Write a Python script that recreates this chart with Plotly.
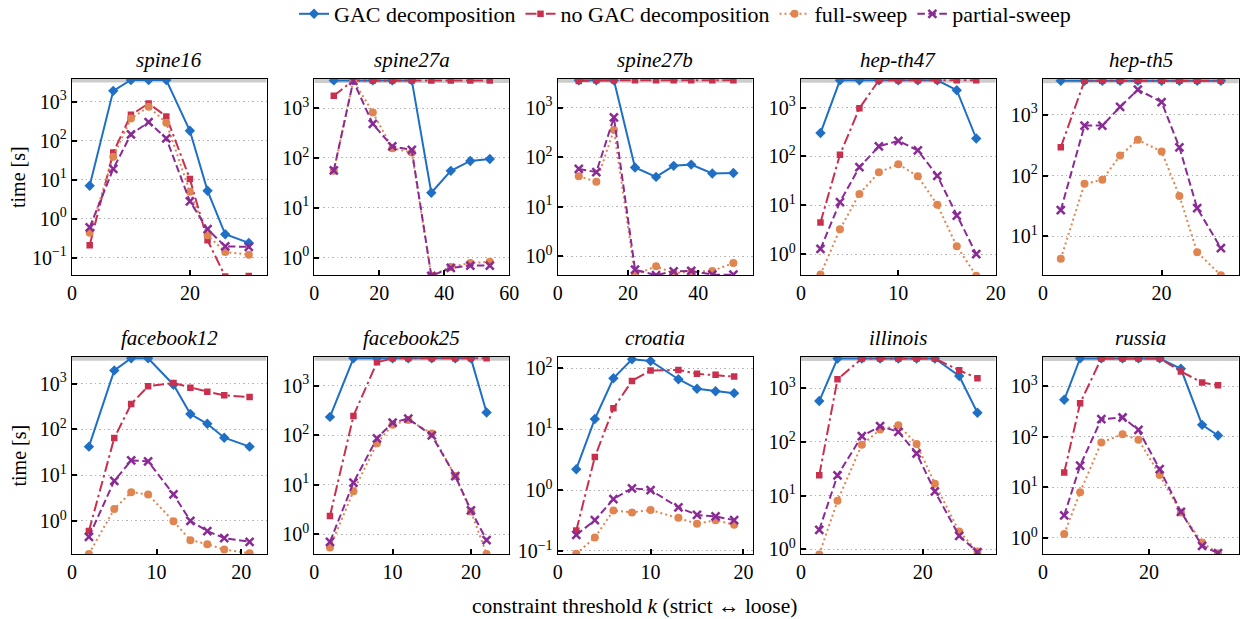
import plotly.graph_objects as go

W, H = 1247, 619

# ---------------- data ----------------
panel_names = ["spine16", "spine27a", "spine27b", "hep-th47", "hep-th5",
               "facebook12", "facebook25", "croatia", "illinois", "russia"]
series_names = ["GAC decomposition", "no GAC decomposition", "full-sweep", "partial-sweep"]

x_spine16 = [3, 7, 10, 13, 16, 20, 23, 26, 30]
gac_spine16 = [7.0, 1900, 3600, 3600, 3600, 180, 5.2, 0.40, 0.24]
nogac_spine16 = [0.21, 50, 460, 900, 420, 10.4, 0.28, 0.033, 0.034]
full_spine16 = [0.44, 39, 370, 740, 290, 4.9, 0.38, 0.14, 0.12]
partial_spine16 = [0.6, 19, 145, 300, 115, 2.8, 0.54, 0.195, 0.19]

x_spine27a = [6, 12, 18, 24, 30, 36, 42, 48, 54]
gac_spine27a = [3600, 3600, 3600, 3600, 3600, 20, 55, 87, 95]
nogac_spine27a = [1770, 3600, 3600, 3600, 3600, 3600, 3600, 3600, 3600]
full_spine27a = [55, 3600, 820, 157, 128, 0.43, 0.65, 0.78, 0.82]
partial_spine27a = [56, 3500, 480, 170, 145, 0.43, 0.62, 0.69, 0.69]

x_spine27b = [6, 11, 16, 22, 28, 33, 38, 44, 50]
gac_spine27b = [3600, 3600, 3600, 62, 40, 67, 71, 47, 48]
nogac_spine27b = [3500, 3600, 3600, 3600, 3600, 3600, 3600, 3600, 3600]
full_spine27b = [41, 32, 355, 0.42, 0.62, 0.45, 0.48, 0.5, 0.72]
partial_spine27b = [58, 50, 640, 0.53, 0.41, 0.49, 0.5, 0.42, 0.42]

x_hepth47 = [2, 4, 6, 8, 10, 12, 14, 16, 18]
gac_hepth47 = [300, 3600, 3600, 3600, 3600, 3600, 3600, 2260, 232]
nogac_hepth47 = [4.4, 108, 970, 3600, 3600, 3600, 3600, 3600, 3600]
full_hepth47 = [0.38, 3.2, 17, 47, 69, 39, 10.2, 1.44, 0.36]
partial_hepth47 = [1.27, 11.6, 60, 160, 208, 132, 40, 6.1, 1.0]

x_hepth5 = [3, 7, 10, 13, 16, 20, 23, 26, 30]
gac_hepth5 = [3600, 3600, 3600, 3600, 3600, 3600, 3600, 3600, 3600]
nogac_hepth5 = [291, 3600, 3600, 3600, 3600, 3600, 3600, 3600, 3600]
full_hepth5 = [4.3, 73, 85, 213, 385, 247, 46, 5.5, 2.3]
partial_hepth5 = [27, 660, 660, 1340, 2570, 1610, 291, 29, 6.4]

x_fb12 = [2, 5, 7, 9, 12, 14, 16, 18, 21]
gac_fb12 = [42, 1950, 3600, 3600, 950, 217, 133, 66, 42]
nogac_fb12 = [0.6, 65, 360, 880, 1030, 820, 670, 560, 510]
full_fb12 = [0.19, 1.83, 4.25, 3.8, 0.98, 0.38, 0.31, 0.236, 0.196]
partial_fb12 = [0.45, 7.5, 21, 20, 3.8, 1.0, 0.6, 0.42, 0.35]

x_fb25 = [2, 5, 8, 10, 12, 15, 18, 20, 22]
gac_fb25 = [236, 3600, 3600, 3600, 3600, 3600, 3600, 3600, 290]
nogac_fb25 = [2.34, 247, 3000, 3600, 3600, 3600, 3600, 3600, 3600]
full_fb25 = [0.54, 7.4, 69, 163, 205, 109, 15, 2.9, 0.4]
partial_fb25 = [0.70, 11.1, 87, 181, 218, 100, 15, 3.05, 0.76]

x_croatia = [2, 4, 6, 8, 10, 13, 15, 17, 19]
gac_croatia = [2.2, 14.7, 68.5, 140, 132, 66, 46, 42, 39]
nogac_croatia = [0.216, 3.5, 22, 62, 92, 94, 81, 78, 73]
full_croatia = [0.09, 0.166, 0.46, 0.43, 0.47, 0.35, 0.28, 0.32, 0.27]
partial_croatia = [0.183, 0.32, 0.71, 1.07, 1.0, 0.52, 0.39, 0.37, 0.32]

x_illinois = [3, 6, 10, 13, 16, 19, 22, 26, 29]
gac_illinois = [580, 3600, 3600, 3600, 3600, 3600, 3600, 1700, 350]
nogac_illinois = [23.9, 1470, 3600, 3600, 3600, 3600, 3600, 2170, 1540]
full_illinois = [0.8, 8.0, 89, 170, 206, 92, 16.7, 2.14, 0.91]
partial_illinois = [2.3, 23.9, 128, 197, 155, 61, 12, 1.78, 0.88]

x_russia = [4, 7, 11, 15, 18, 22, 26, 30, 33]
gac_russia = [545, 3600, 3600, 3600, 3600, 3600, 2240, 174, 107]
nogac_russia = [19.7, 467, 3600, 3600, 3600, 3600, 1980, 1200, 1060]
full_russia = [1.2, 8.0, 78, 113, 88, 17.7, 3.2, 0.81, 0.5]
partial_russia = [2.8, 27, 225, 243, 138, 23, 3.3, 0.70, 0.5]

timeout = 3600
y_tick_exponents = [-1, 0, 1, 2, 3]

panel_data = [
    (x_spine16, [gac_spine16, nogac_spine16, full_spine16, partial_spine16]),
    (x_spine27a, [gac_spine27a, nogac_spine27a, full_spine27a, partial_spine27a]),
    (x_spine27b, [gac_spine27b, nogac_spine27b, full_spine27b, partial_spine27b]),
    (x_hepth47, [gac_hepth47, nogac_hepth47, full_hepth47, partial_hepth47]),
    (x_hepth5, [gac_hepth5, nogac_hepth5, full_hepth5, partial_hepth5]),
    (x_fb12, [gac_fb12, nogac_fb12, full_fb12, partial_fb12]),
    (x_fb25, [gac_fb25, nogac_fb25, full_fb25, partial_fb25]),
    (x_croatia, [gac_croatia, nogac_croatia, full_croatia, partial_croatia]),
    (x_illinois, [gac_illinois, nogac_illinois, full_illinois, partial_illinois]),
    (x_russia, [gac_russia, nogac_russia, full_russia, partial_russia]),
]

# ---------------- styling / layout ----------------
FONT = "Liberation Serif, Times New Roman, serif"
colors = ["#1f6fc5", "#c8304e", "#e08450", "#8a2b95"]
dashes = ["solid", "11px,3.5px,2.5px,3.5px", "2px,3px", "7.5px,3.5px"]
symbols = ["diamond", "square", "circle", "x-thin"]
msizes = [8, 6.5, 8, 8]

x_ranges = [[0, 33], [0, 60], [0, 55.5], [0, 20], [0, 33],
            [0, 23], [0, 24.9], [0, 21], [0, 32], [0, 36.9]]
x_dticks = [20, 20, 20, 10, 20, 10, 10, 10, 20, 20]
y_ranges = [[-1.45, 3.59], [-0.356, 3.59], [-0.39, 3.59], [-0.436, 3.59], [0.361, 3.59],
            [-0.73, 3.59], [-0.405, 3.59], [-1.055, 2.19], [-0.094, 3.59], [-0.324, 3.59]]

col_px = [(72, 266.5), (314.3, 509.3), (557.7, 752.7), (801, 995.7), (1043, 1238.7)]
row_px = [(78.7, 275.3), (356.7, 554.3)]

fig = go.Figure()
layout = {}
annotations = []
shapes = []

for i, (name, (xs, ys_list)) in enumerate(zip(panel_names, panel_data)):
    r, c = divmod(i, 5)
    n = i + 1
    xa = "x" if n == 1 else f"x{n}"
    ya = "y" if n == 1 else f"y{n}"
    xkey = "xaxis" if n == 1 else f"xaxis{n}"
    ykey = "yaxis" if n == 1 else f"yaxis{n}"

    x0p, x1p = col_px[c]
    y0p, y1p = row_px[r]
    layout[xkey] = dict(
        domain=[x0p / W, x1p / W], anchor=ya, range=x_ranges[i],
        dtick=x_dticks[i], tick0=0, showgrid=False, zeroline=False,
        showline=True, linecolor="black", linewidth=1.3, mirror=True,
        ticks="inside", ticklen=5, tickwidth=1.5, tickcolor="black",
        tickfont=dict(family=FONT, size=20, color="black"),
    )
    lo, hi = y_ranges[i]
    tv = [10 ** e for e in y_tick_exponents if lo <= e <= hi]
    tt = ["10<sup>" + (str(e) if e >= 0 else "\u2212" + str(-e)) + "</sup>"
          for e in y_tick_exponents if lo <= e <= hi]
    layout[ykey] = dict(
        domain=[1 - y1p / H, 1 - y0p / H], anchor=xa, type="log", range=[lo, hi],
        tickvals=tv, ticktext=tt, showgrid=True, gridcolor="#b5b5b5",
        griddash="1.5px,3px", gridwidth=1.2, zeroline=False,
        showline=True, linecolor="black", linewidth=1.3, mirror=True,
        ticks="inside", ticklen=5, tickwidth=1.5, tickcolor="black",
        tickfont=dict(family=FONT, size=20, color="black"),
    )

    # timeout band
    if hi > 3.556:
        shapes.append(dict(type="line", xref=xa, yref=ya, x0=x_ranges[i][0], x1=x_ranges[i][1],
                           y0=timeout, y1=timeout, layer="below",
                           line=dict(color="rgba(0,0,0,0.2)", width=5)))

    for k, ys in enumerate(ys_list):
        fig.add_trace(go.Scatter(
            x=xs, y=ys, xaxis=xa, yaxis=ya, mode="lines+markers",
            name=series_names[k], legendgroup=series_names[k], showlegend=(i == 0),
            line=dict(color=colors[k], width=2, dash=dashes[k]),
            marker=dict(symbol=symbols[k], size=msizes[k], color=colors[k],
                        line=dict(color=colors[k], width=2.5 if symbols[k] == "x-thin" else 0)),
        ))

    annotations.append(dict(
        text=f"<i>{name}</i>", xref="paper", yref="paper",
        x=(x0p + x1p) / 2 / W, y=1 - (y0p - 19) / H, xanchor="center", yanchor="middle",
        showarrow=False, font=dict(family=FONT, size=21, color="black")))

for r in range(2):
    y0p, y1p = row_px[r]
    annotations.append(dict(
        text="time [s]", xref="paper", yref="paper", x=18 / W, y=1 - (y0p + y1p) / 2 / H,
        xanchor="center", yanchor="middle", textangle=-90, showarrow=False,
        font=dict(family=FONT, size=20, color="black")))

annotations.append(dict(
    text="constraint threshold <i>k</i> (strict \u2194 loose)", xref="paper", yref="paper",
    x=635 / W, y=1 - 606 / H, xanchor="center", yanchor="middle", showarrow=False,
    font=dict(family=FONT, size=21.5, color="black")))

fig.update_layout(
    **layout,
    width=W, height=H,
    margin=dict(l=0, r=0, t=0, b=0, autoexpand=False),
    paper_bgcolor="white", plot_bgcolor="white",
    annotations=annotations, shapes=shapes,
    showlegend=True,
    legend=dict(orientation="h", x=685 / W, xanchor="center",
                y=1 - 14 / H, yanchor="middle",
                font=dict(family=FONT, size=22, color="black"),
                bgcolor="rgba(0,0,0,0)", itemwidth=30),
    font=dict(family=FONT, color="black"),
)

fig.write_html("out.html")
